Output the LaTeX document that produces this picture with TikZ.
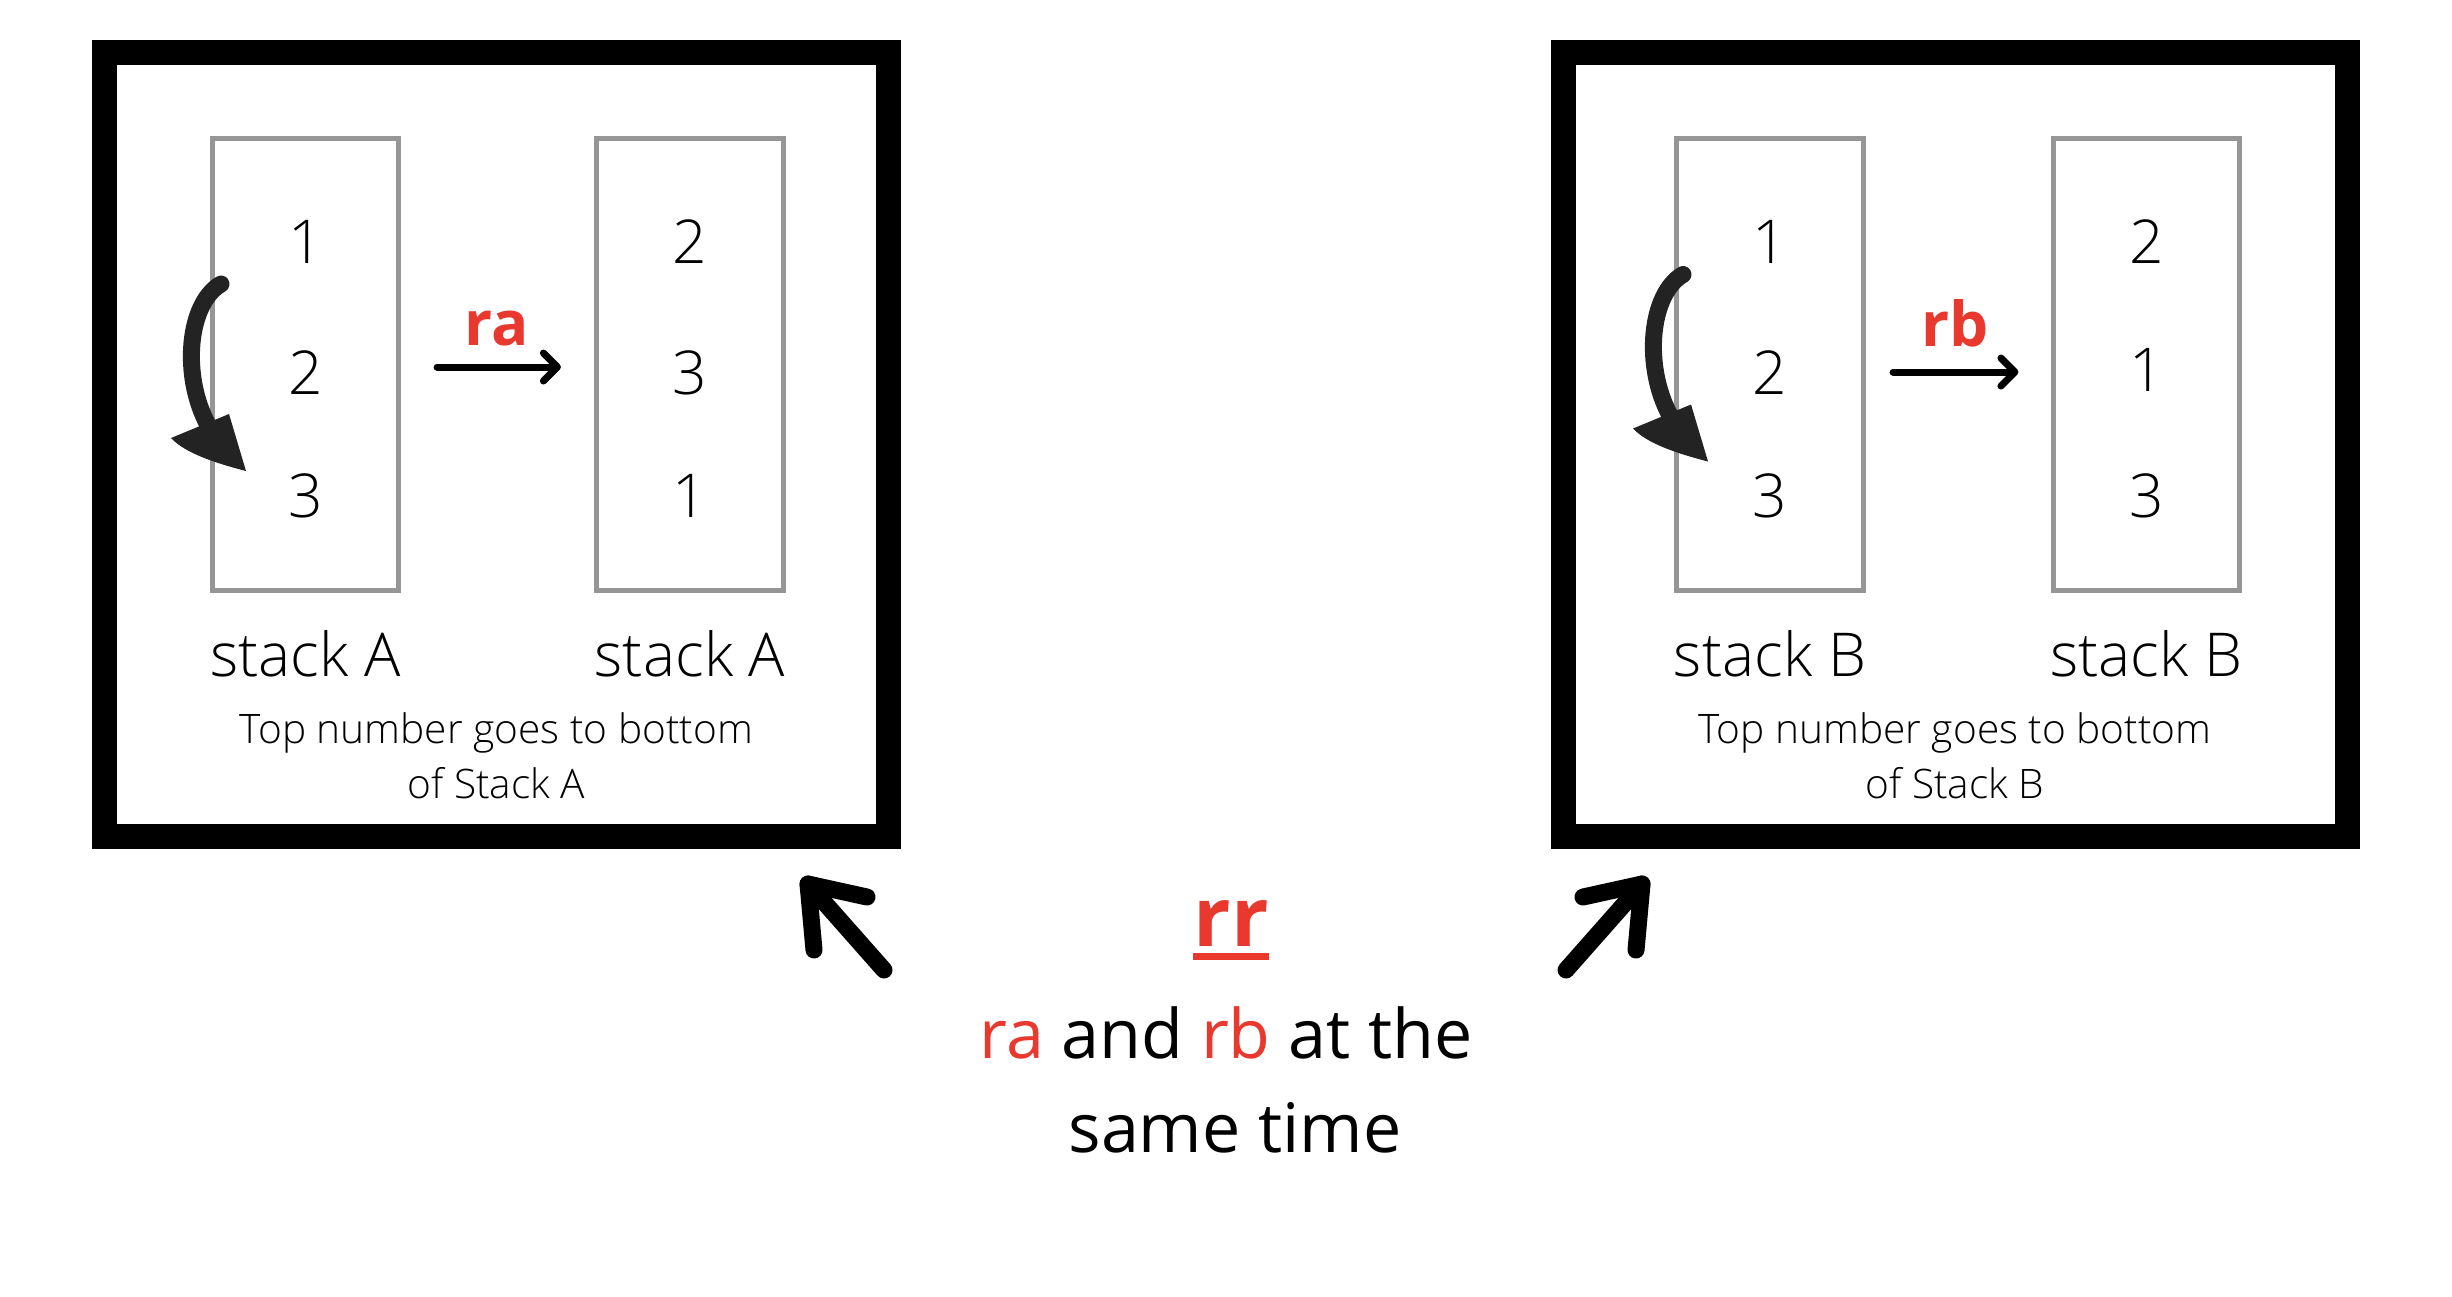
\documentclass[tikz,border=0pt]{standalone}
\usepackage{fontspec}
\setmainfont{Open Sans}
\newfontfamily\lightf{Open Sans Light}
\usetikzlibrary{arrows.meta}
\definecolor{redt}{RGB}{233,57,47}
\definecolor{stackgray}{RGB}{150,150,150}
\definecolor{curlc}{RGB}{35,35,35}
\tikzset{
  outerbox/.style={draw=black, line width=0.25cm, outer sep=0pt, inner sep=0pt, minimum width=7.835cm, minimum height=7.833cm},
  stackbox/.style={draw=stackgray, line width=0.05cm, minimum width=1.86cm, minimum height=4.51cm, outer sep=0pt, inner sep=0pt},
  digit/.style={anchor=base, inner sep=0pt, font=\lightf\fontsize{17.2}{20}\selectfont},
  stacklabel/.style={anchor=base, inner sep=0pt, font=\lightf\fontsize{17.2}{20}\selectfont},
  caption/.style={anchor=base, inner sep=0pt, font=\lightf\fontsize{11.55}{14}\selectfont},
  oplabel/.style={anchor=base, inner sep=0pt, text=redt, font=\bfseries\fontsize{17.6}{20}\selectfont},
  flow/.style={line width=0.07cm, line cap=round, -{Straight Barb[length=0.14cm, width=0.28cm, line cap=round, line join=round]}},
  curl/.style={line width=0.17cm, line cap=round, draw=curlc},
  curlhead/.style={fill=curlc},
  bigarrow/.style={line width=0.17cm, line cap=round, line join=round, draw=black},
  bigtext/.style={anchor=base, inner sep=0pt, font=\fontsize{19.4}{22}\selectfont},
  rrtext/.style={anchor=base, inner sep=0pt, text=redt, font=\bfseries\fontsize{23.5}{26}\selectfont},
}
\begin{document}
\begin{tikzpicture}[x=0.01cm,y=-0.01cm]
\useasboundingbox (0,0) rectangle (2452,1296);
\fill[white] (0,0) rectangle (2452,1296);

% ---------- left panel ----------
\node[outerbox] (boxA) at (496.5,444.2) {};
\node[stackbox] (sa1) at (305.5,364.5) {};
\node[stackbox] (sa2) at (690,364.5) {};
\node[digit] (a11) at (305.5,263) {1};
\node[digit] (a12) at (305.5,394) {2};
\node[digit] (a13) at (305.5,517) {3};
\node[digit] (a21) at (690,263) {2};
\node[digit] (a22) at (690,394) {3};
\node[digit] (a23) at (690,517) {1};
\node[stacklabel] (la) at (305.5,676.4) {stack A};
\node[stacklabel] (lb) at (690,676.4) {stack A};
\node[caption] (ca1) at (496.5,743.6) {Top number goes to bottom};
\node[caption] (ca2) at (496.5,798.2) {of Stack A};
\node[oplabel] (ra) at (496.7,345) {ra};
\draw[flow, shorten <=0.385cm, shorten >=0.36cm] ([yshift=-0.025cm]sa1.east) -- ([yshift=-0.025cm]sa2.west);
\coordinate (cAs) at (221,284);
\coordinate (cAe) at (208,425);
\draw[curl] (cAs) .. controls (188,303) and (181,375) .. (cAe);
\fill[curlhead] (171,438) -- (229,414) -- (246,471) .. controls (215,463) and (185,453) .. cycle;

% ---------- right panel ----------
\node[outerbox] (boxB) at (1955,444.2) {};
\node[stackbox] (sb1) at (1770,364.5) {};
\node[stackbox] (sb2) at (2146.5,364.5) {};
\node[digit] (b11) at (1770,263) {1};
\node[digit] (b12) at (1770,394) {2};
\node[digit] (b13) at (1770,517) {3};
\node[digit] (b21) at (2146.5,263) {2};
\node[digit] (b22) at (2146.5,391) {1};
\node[digit] (b23) at (2146.5,517) {3};
\node[stacklabel] (lc) at (1770,676.4) {stack B};
\node[stacklabel] (ld) at (2146.5,676.4) {stack B};
\node[caption] (cb1) at (1955,743.6) {Top number goes to bottom};
\node[caption] (cb2) at (1955,798.2) {of Stack B};
\node[oplabel] (rb) at (1955,346) {rb};
\draw[flow, shorten <=0.3cm, shorten >=0.35cm] ([yshift=-0.075cm]sb1.east) -- ([yshift=-0.075cm]sb2.west);
\begin{scope}[shift={(1462,-9.5)}]
\coordinate (cBs) at (221,284);
\coordinate (cBe) at (208,425);
\draw[curl] (cBs) .. controls (188,303) and (181,375) .. (cBe);
\fill[curlhead] (171,438) -- (229,414) -- (246,471) .. controls (215,463) and (185,453) .. cycle;
\end{scope}

% ---------- bottom ----------
\node[rrtext] (rr) at (1231,946) {rr};
\fill[redt] ([yshift=-0.07cm]rr.base west) rectangle ([yshift=-0.135cm]rr.base east);
\node[bigtext] (t1) at (1226,1058) {\textcolor{redt}{ra} and \textcolor{redt}{rb} at the};
\node[bigtext] (t2) at (1235,1152) {same time};

\coordinate (latip) at (808,884);
\coordinate (la1) at (814,950);
\coordinate (la2) at (867,897);
\coordinate (latail) at (884,970);
\draw[bigarrow] (la1) -- (latip) -- (la2);
\draw[bigarrow] (latail) -- (latip);

\coordinate (rbtip) at (1642,884);
\coordinate (rb1) at (1636,950);
\coordinate (rb2) at (1583,897);
\coordinate (rbtail) at (1566,970);
\draw[bigarrow] (rb1) -- (rbtip) -- (rb2);
\draw[bigarrow] (rbtail) -- (rbtip);
\end{tikzpicture}
\end{document}
